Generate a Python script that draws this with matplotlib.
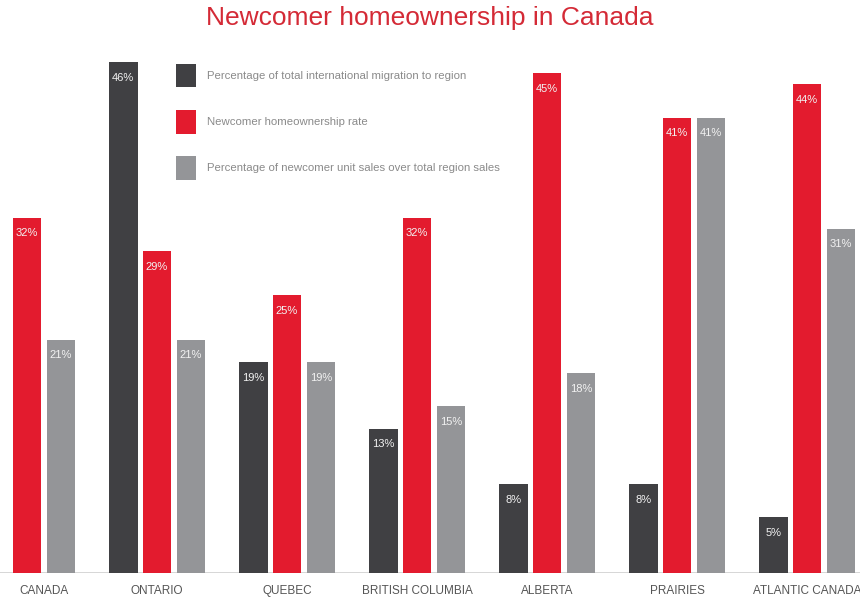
import matplotlib.pyplot as plt
import numpy as np

# --- Data ---
regions = ["CANADA", "ONTARIO", "QUEBEC", "BRITISH COLUMBIA", "ALBERTA", "PRAIRIES", "ATLANTIC CANADA"]
migration = [np.nan, 46, 19, 13, 8, 8, 5]
homeownership = [32, 29, 25, 32, 45, 41, 44]
unit_sales = [21, 21, 19, 15, 18, 41, 31]

series_labels = [
    "Percentage of total international migration to region",
    "Newcomer homeownership rate",
    "Percentage of newcomer unit sales over total region sales",
]

DARK = "#404043"
RED = "#e31b2e"
GRAY = "#949598"
plt.rcParams['font.family'] = ['Liberation Sans', 'DejaVu Sans']

fig = plt.figure(figsize=(8.6, 6.01), dpi=100)
ax = fig.add_axes([0, 1 - 573 / 601, 1, 573 / 601])

x = np.arange(len(regions))
step = 0.26
width = 0.22
series = [migration, homeownership, unit_sales]
colors = [DARK, RED, GRAY]

for k, (vals, col) in enumerate(zip(series, colors)):
    xs = x + k * step
    ax.bar(xs, vals, width=width, color=col, label=series_labels[k], zorder=2)
    for xi, v in zip(xs, vals):
        if np.isnan(v):
            continue
        ax.text(xi, v - 1.4, f"{int(v)}%", ha='center', va='center',
                color='#f2f2f2', fontsize=8, zorder=3)

# red bar of group i sits at pixel 27 + 130 * i
ax.set_xlim(step - 27 / 130, step + 833 / 130)
ax.set_ylim(0, 51.6)
ax.axis('off')

# baseline
ax.axhline(0, color='#d3d3d3', lw=2, zorder=1)

# region labels below axis, centred on the bars that are present
for i, name in enumerate(regions):
    present = [i + k * step for k, s in enumerate(series) if not np.isnan(s[i])]
    xc = (min(present) + max(present)) / 2
    ax.text(xc, -1.6, name, ha='center', va='center', fontsize=8.5,
            color='#555555', clip_on=False)

# title
fig.text(0.5, 1 - 18 / 601, "Newcomer homeownership in Canada", ha='center', va='center',
         fontsize=19, color='#d42a36')

leg = ax.legend(loc='upper left', bbox_to_anchor=(177 / 860 - 0.007, 1 - 59 / 573),
                frameon=False, fontsize=8.2, handlelength=1.8, handleheight=2.85,
                labelspacing=1.95, handletextpad=1.0, borderaxespad=0)
for t in leg.get_texts():
    t.set_color('#8a8a8a')

fig.savefig("out.png", dpi=100)
